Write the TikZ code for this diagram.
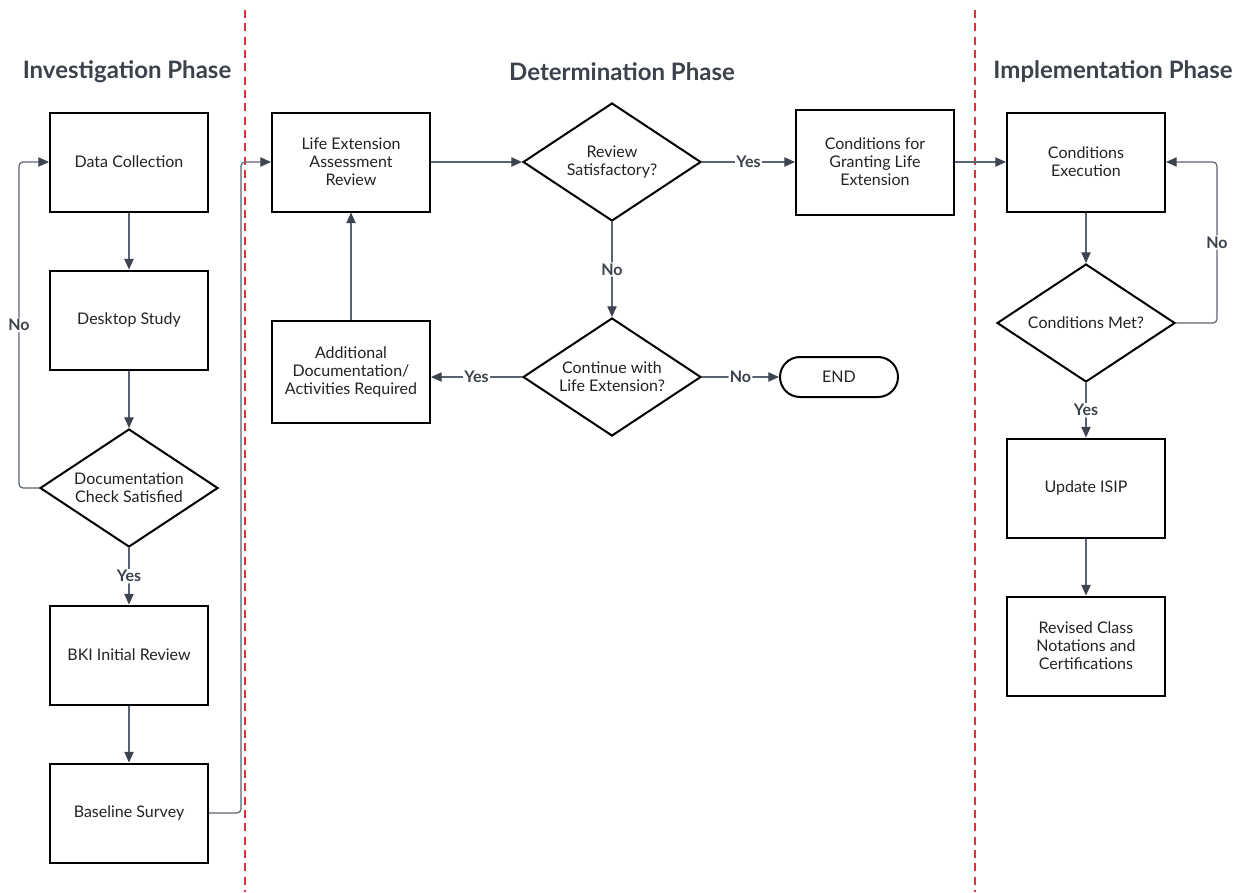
\documentclass[tikz,border=0pt]{standalone}
\usepackage{fontspec}
\setmainfont{Lato}
\usetikzlibrary{shapes.geometric,arrows.meta}
\definecolor{hdr}{HTML}{3B424C}
\definecolor{lnc}{HTML}{5B6370}
\definecolor{ahc}{HTML}{3D4450}
\definecolor{txt}{HTML}{222222}
\definecolor{dashred}{HTML}{E0303A}
\tikzset{
  box/.style={draw=black, line width=1.5pt, minimum width=118.5pt, minimum height=74.25pt, align=center, text=txt, font=\fontsize{12}{13.5}\selectfont, inner sep=2pt},
  dec/.style={diamond, draw=black, line width=1.5pt, minimum width=133.5pt, minimum height=88.5pt, inner sep=-6pt, aspect=1.5, align=center, text=txt, font=\fontsize{12}{13.5}\selectfont},
  term/.style={draw=black, line width=1.5pt, rounded corners=15pt, minimum width=88.5pt, minimum height=30pt, align=center, text=txt, font=\fontsize{12}{13.5}\selectfont},
  arr/.style={draw=lnc, line width=0.9pt, rounded corners=3pt, -{Triangle[length=8pt,width=7pt,fill=ahc,color=ahc]}},
  lbl/.style={fill=white, inner sep=1pt, text=hdr, font=\fontsize{12}{14}\selectfont\bfseries},
  phase/.style={text=hdr, font=\fontsize{18}{21}\selectfont\bfseries},
  sep/.style={draw=dashred, line width=0.9pt, dash pattern=on 6pt off 4pt}
}
\begin{document}
\begin{tikzpicture}[x=0.75pt,y=-0.75pt]
\useasboundingbox (0,0) rectangle (1238,892);
% separators
\draw[sep] (245,10) -- (245,892);
\draw[sep] (975,10) -- (975,892);
% headers
\node[phase] (h1) at (127,72) {Investigation Phase};
\node[phase] (h2) at (622,72) {Determination Phase};
\node[phase] (h3) at (1113,72) {Implementation Phase};
% investigation
\node[box] (dc) at (129,162) {Data Collection};
\node[box] (ds) at (129,320) {Desktop Study};
\node[dec] (chk) at (129,488) {Documentation\\Check Satisfied};
\node[box] (bki) at (129,655) {BKI Initial Review};
\node[box] (bs) at (129,813) {Baseline Survey};
% determination
\node[box] (le) at (351,162) {Life Extension\\Assessment\\Review};
\node[dec] (rs) at (612,162) {Review\\Satisfactory?};
\node[box, minimum height=78.75pt] (cg) at (875,162) {Conditions for\\Granting Life\\Extension};
\node[dec] (cw) at (612,377) {Continue with\\Life Extension?};
\node[box, minimum height=77pt] (ad) at (351,372) {Additional\\Documentation/\\Activities Required};
\node[term] (end) at (839,377) {END};
% implementation
\node[box] (ce) at (1086,162) {Conditions\\Execution};
\node[dec] (cm) at (1086,323) {Conditions Met?};
\node[box] (up) at (1086,488) {Update ISIP};
\node[box] (rc) at (1086,646) {Revised Class\\Notations and\\Certifications};
% connectors
\draw[arr] (dc) -- (ds);
\draw[arr] (ds) -- (chk);
\draw[arr] (chk) -- node[lbl] {Yes} (bki);
\draw[arr] (chk.west) -- ++(-20,0) |- node[lbl, pos=0.25] {No} (dc.west);
\draw[arr] (bki) -- (bs);
\draw[arr] (bs.east) -- ++(32,0) |- (le.west);
\draw[arr] (le) -- (rs);
\draw[arr] (rs) -- node[lbl] {Yes} (cg);
\draw[arr] (rs) -- node[lbl] {No} (cw);
\draw[arr] (cw) -- node[lbl] {Yes} (ad.east |- cw.west);
\draw[arr] (cw) -- node[lbl] {No} (end);
\draw[arr] (ad.north -| le.south) -- (le.south);
\draw[arr] (cg) -- (ce);
\draw[arr] (ce) -- (cm);
\draw[arr] (cm.east) -- ++(41,0) |- node[lbl, pos=0.25] {No} (ce.east);
\draw[arr] (cm) -- node[lbl] {Yes} (up);
\draw[arr] (up) -- (rc);
\end{tikzpicture}
\end{document}
